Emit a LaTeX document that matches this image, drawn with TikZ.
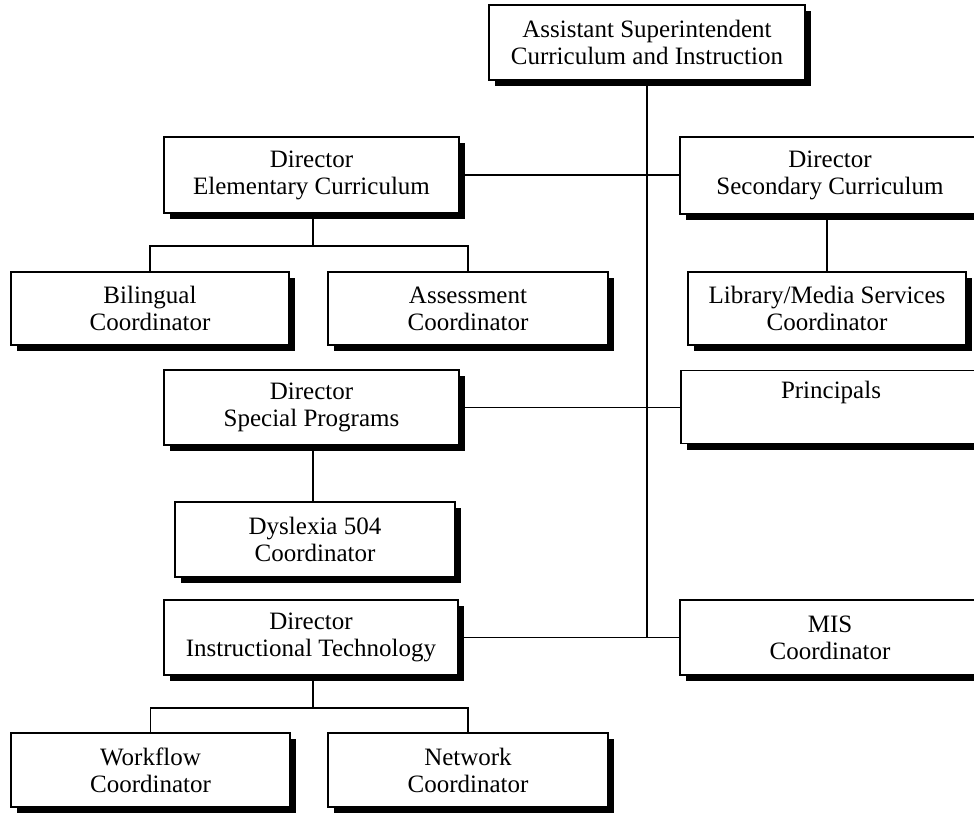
\documentclass[tikz,border=0pt]{standalone}
\usepackage{fontspec}
\setmainfont{Liberation Serif}
\usetikzlibrary{shadows}

\tikzset{
  orgbox/.style={draw, line width=1.6pt, fill=white, rectangle, inner sep=0pt,
    align=center, minimum height=74pt,
    font=\fontsize{25}{27}\selectfont,
    drop shadow={shadow xshift=6pt, shadow yshift=-6pt, fill=black, opacity=1}},
  link/.style={line width=1.7pt}
}

\begin{document}
\begin{tikzpicture}[x=1pt, y=-1pt]
  \useasboundingbox (0,0) rectangle (974,812);
  \clip (0,0) rectangle (974,812);

  % top of the chart
  \node[orgbox, minimum width=316pt, minimum height=75pt] (asst) at (647,42.5)
    {Assistant Superintendent\\Curriculum and Instruction};

  % left column: directors and their coordinators
  \node[orgbox, minimum width=295pt, minimum height=76pt] (elem) at (311.5,175)
    {Director\\Elementary Curriculum};
  \node[orgbox, minimum width=278pt, minimum height=73pt] (bil) at (150,308.5)
    {Bilingual\\Coordinator};
  \node[orgbox, minimum width=280pt, minimum height=73pt] (assess) at (468,308.5)
    {Assessment\\Coordinator};
  \node[orgbox, minimum width=295pt, minimum height=75pt] (spec) at (311.5,407.5)
    {Director\\Special Programs};
  \node[orgbox, minimum width=280pt, minimum height=75pt] (dys) at (315,539.5)
    {Dyslexia 504\\Coordinator};
  \node[orgbox, minimum width=294pt, minimum height=75pt] (tech) at (311,637.5)
    {Director\\Instructional Technology};
  \node[orgbox, minimum width=279pt, minimum height=74pt] (work) at (150.5,770)
    {Workflow\\Coordinator};
  \node[orgbox, minimum width=280pt, minimum height=74pt] (net) at (468,770)
    {Network\\Coordinator};

  % right column (boxes run past the right edge)
  \node[orgbox, minimum width=300pt, minimum height=77pt] (sec) at (830,175.5)
    {Director\\Secondary Curriculum};
  \node[orgbox, minimum width=278pt, minimum height=73pt] (lib) at (827,308.5)
    {Library/Media Services\\Coordinator};
  \node[orgbox, minimum width=300pt, minimum height=73pt] (prin) at (831,407)
    {Principals\\\strut};
  \node[orgbox, minimum width=300pt, minimum height=75pt] (mis) at (830,637.5)
    {MIS\\Coordinator};

  % main trunk and the branches off it
  \draw[link] (asst.south) -- (asst.south |- mis.west);
  \draw[link] (elem.east) -- (elem.east -| sec.west);
  \draw[link] (spec.east) -- (spec.east -| prin.west);
  \draw[link] (tech.east) -- (tech.east -| mis.west);

  % elementary curriculum fork
  \draw[link] (elem.south -| 313,0) -- (313,246) coordinate (efork);
  \draw[link] (bil.north) |- (efork) -| (assess.north);

  % secondary curriculum to library
  \draw[link] (sec.south -| lib.north) -- (lib.north);

  % special programs to dyslexia
  \draw[link] (spec.south -| 313,0) -- (dys.north -| 313,0);

  % instructional technology fork
  \draw[link] (tech.south -| 313,0) -- (313,708) coordinate (tfork);
  \draw[link] (work.north) |- (tfork) -| (net.north);
\end{tikzpicture}
\end{document}
